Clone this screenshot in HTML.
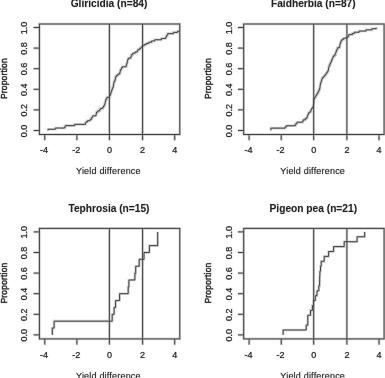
<!DOCTYPE html>
<html><head><meta charset="utf-8"><style>
html,body{margin:0;padding:0;background:#fff;}
svg{display:block;filter:grayscale(1);}
.t{font-family:'Liberation Sans', sans-serif;font-size:9.0px;fill:#222;stroke:#222;stroke-width:0.15px;}.h .t{fill:#e6e6e6;stroke:#e6e6e6;stroke-width:1.15px;}
.l{font-family:'Liberation Sans', sans-serif;font-size:9.0px;letter-spacing:0.2px;fill:#222;stroke:#222;stroke-width:0.05px;}.h .l{fill:#e6e6e6;stroke:#e6e6e6;stroke-width:1.05px;}
.yl{font-family:'Liberation Sans', sans-serif;font-size:8.45px;letter-spacing:0.2px;fill:#222;stroke:#222;stroke-width:0.35px;}.h .yl{fill:#e6e6e6;stroke:#e6e6e6;stroke-width:1.35px;}
.m{font-family:'Liberation Sans', sans-serif;font-size:10.2px;font-weight:bold;fill:#222;stroke:#222;stroke-width:0.0px;}.h .m{fill:#e6e6e6;stroke:#e6e6e6;stroke-width:1.00px;}
</style></head><body>
<svg width="385" height="378" viewBox="0 0 385 378">
<defs><clipPath id="c0"><rect x="39.4" y="24.0" width="140.40" height="110.50"/></clipPath><clipPath id="c1"><rect x="39.4" y="24.0" width="140.40" height="110.50"/></clipPath><clipPath id="c2"><rect x="39.4" y="24.0" width="140.40" height="110.50"/></clipPath><clipPath id="c3"><rect x="39.4" y="24.0" width="140.40" height="110.50"/></clipPath>
</defs>
<rect width="385" height="378" fill="#fff"/>
<g fill="none" stroke="#cfcfcf" stroke-width="2.6">
<g transform="translate(0.00,0.00)">
<rect x="39.4" y="24.0" width="140.40" height="110.50"/>
<path d="M109.40,24.0V134.5"/>
<path d="M142.60,24.0V134.5"/>
<path d="M44.80,134.5V140.30"/>
<path d="M76.90,134.5V140.30"/>
<path d="M109.40,134.5V140.30"/>
<path d="M142.60,134.5V140.30"/>
<path d="M174.70,134.5V140.30"/>
<path d="M33.60,130.50H39.4"/>
<path d="M33.60,109.90H39.4"/>
<path d="M33.60,89.30H39.4"/>
<path d="M33.60,68.70H39.4"/>
<path d="M33.60,48.10H39.4"/>
<path d="M33.60,27.50H39.4"/>
<path clip-path="url(#c0)" d="M48.00,130.50V129.27H55.40V128.05H64.58V126.82H65.55V125.60H74.60V124.37H85.44V123.14H85.99V121.92H87.52V120.69H90.08V119.46H91.37V118.24H91.99V117.01H92.83V115.79H96.01V114.56H96.26V113.33H96.51V112.11H97.81V110.88H99.62V109.65H100.43V108.43H102.77V107.20H103.59V105.98H104.35V104.75H104.86V103.52H105.15V102.30H105.45V101.07H105.74V99.85H106.28V98.62H106.90V97.39H109.36V96.17H109.92V94.94H110.49V93.71H110.88V92.49H111.26V91.26H111.66V90.04H112.14V88.81H112.62V87.58H113.10V86.36H113.47V85.13H113.65V83.90H113.83V82.68H114.02V81.45H114.82V80.23H115.23V79.00H115.45V77.77H115.66V76.55H116.67V75.32H118.03V74.10H119.69V72.87H120.04V71.64H120.30V70.42H120.69V69.19H121.50V67.96H122.30V66.74H126.07V65.51H126.49V64.29H126.91V63.06H127.17V61.83H127.43V60.61H127.69V59.38H128.47V58.15H130.74V56.93H131.21V55.70H131.79V54.48H132.86V53.25H135.06V52.02H137.35V50.80H137.92V49.57H139.69V48.35H141.14V47.12H142.14V45.89H143.89V44.67H146.05V43.44H148.74V42.21H151.56V40.99H154.72V39.76H161.37V38.54H165.59V37.31H166.32V36.08H167.04V34.86H167.76V33.63H173.42V32.40H177.62V31.18H999.00V29.95V28.73V27.50"/>
</g>
<g transform="translate(204.30,0.00)">
<rect x="39.4" y="24.0" width="140.40" height="110.50"/>
<path d="M109.40,24.0V134.5"/>
<path d="M142.60,24.0V134.5"/>
<path d="M44.80,134.5V140.30"/>
<path d="M76.90,134.5V140.30"/>
<path d="M109.40,134.5V140.30"/>
<path d="M142.60,134.5V140.30"/>
<path d="M174.70,134.5V140.30"/>
<path d="M33.60,130.50H39.4"/>
<path d="M33.60,109.90H39.4"/>
<path d="M33.60,89.30H39.4"/>
<path d="M33.60,68.70H39.4"/>
<path d="M33.60,48.10H39.4"/>
<path d="M33.60,27.50H39.4"/>
<path clip-path="url(#c1)" d="M66.60,130.50V129.32V128.13H80.87V126.95H82.02V125.76H90.99V124.58H91.69V123.40H92.80V122.21H98.39V121.03H98.98V119.84H100.83V118.66H102.40V117.48H102.89V116.29H103.38V115.11H103.82V113.93H104.27V112.74H105.68V111.56H106.52V110.37H106.97V109.19H107.63V108.01H108.58V106.82H108.84V105.64H109.10V104.45H109.36V103.27H109.47V102.09H109.54V100.90H109.62V99.72H109.69V98.53H110.38V97.35H111.14V96.17H111.87V94.98H112.61V93.80H113.30V92.61H113.99V91.43H114.56V90.25H115.04V89.06H115.50V87.88H115.66V86.70H115.82V85.51H115.97V84.33H116.28V83.14H116.62V81.96H116.96V80.78H117.37V79.59H117.80V78.41H118.48V77.22H119.67V76.04H120.62V74.86H121.55V73.67H122.35V72.49H123.13V71.30H123.89V70.12H124.10V68.94H124.30V67.75H124.52V66.57H125.01V65.39H125.50V64.20H126.02V63.02H126.56V61.83H127.07V60.65H127.56V59.47H128.05V58.28H128.54V57.10H129.03V55.91H130.40V54.73H131.12V53.55H131.41V52.36H131.84V51.18H132.33V49.99H132.83V48.81H133.37V47.63H135.33V46.44H135.52V45.26H135.72V44.07H135.95V42.89H136.43V41.71H136.91V40.52H137.82V39.34H139.34V38.16H142.67V36.97H144.00V35.79H144.37V34.60H148.09V33.42H150.08V32.24H154.88V31.05H161.76V29.87H167.68V28.68H171.90V27.50"/>
</g>
<g transform="translate(0.00,204.40)">
<rect x="39.4" y="24.0" width="140.40" height="110.50"/>
<path d="M109.40,24.0V134.5"/>
<path d="M142.60,24.0V134.5"/>
<path d="M44.80,134.5V140.30"/>
<path d="M76.90,134.5V140.30"/>
<path d="M109.40,134.5V140.30"/>
<path d="M142.60,134.5V140.30"/>
<path d="M174.70,134.5V140.30"/>
<path d="M33.60,130.50H39.4"/>
<path d="M33.60,109.90H39.4"/>
<path d="M33.60,89.30H39.4"/>
<path d="M33.60,68.70H39.4"/>
<path d="M33.60,48.10H39.4"/>
<path d="M33.60,27.50H39.4"/>
<path clip-path="url(#c2)" d="M52.30,130.50V123.63H54.10V116.77H112.20V109.90H114.10V103.03H115.60V96.17H119.60V89.30H128.20V82.43H128.90V75.57H134.90V68.70H135.70V61.83H139.20V54.97H144.00V48.10H149.40V41.23H157.70V34.37V27.50"/>
</g>
<g transform="translate(204.30,204.40)">
<rect x="39.4" y="24.0" width="140.40" height="110.50"/>
<path d="M109.40,24.0V134.5"/>
<path d="M142.60,24.0V134.5"/>
<path d="M44.80,134.5V140.30"/>
<path d="M76.90,134.5V140.30"/>
<path d="M109.40,134.5V140.30"/>
<path d="M142.60,134.5V140.30"/>
<path d="M174.70,134.5V140.30"/>
<path d="M33.60,130.50H39.4"/>
<path d="M33.60,109.90H39.4"/>
<path d="M33.60,89.30H39.4"/>
<path d="M33.60,68.70H39.4"/>
<path d="M33.60,48.10H39.4"/>
<path d="M33.60,27.50H39.4"/>
<path clip-path="url(#c3)" d="M78.80,130.50V125.60H101.90V120.69H103.50V115.79V110.88H106.20V105.98H108.10V101.07H109.20V96.17H111.00V91.26H112.70V86.36H114.50V81.45H115.30V76.55H115.40V71.64H115.60V66.74H116.20V61.83H116.90V56.93H119.90V52.02H124.30V47.12H129.30V42.21H139.90V37.31H152.80V32.40H160.40V27.50"/>
</g>
</g>
<g class="h"><g transform="translate(0.00,0.00)">
<text x="44.10" y="153.00" text-anchor="middle" class="t">-4</text>
<text x="76.20" y="153.00" text-anchor="middle" class="t">-2</text>
<text x="109.40" y="153.00" text-anchor="middle" class="t">0</text>
<text x="142.60" y="153.00" text-anchor="middle" class="t">2</text>
<text x="174.70" y="153.00" text-anchor="middle" class="t">4</text>
<text transform="translate(27.3,130.90) rotate(-90)" text-anchor="middle" class="t">0.0</text>
<text transform="translate(27.3,110.30) rotate(-90)" text-anchor="middle" class="t">0.2</text>
<text transform="translate(27.3,89.70) rotate(-90)" text-anchor="middle" class="t">0.4</text>
<text transform="translate(27.3,69.10) rotate(-90)" text-anchor="middle" class="t">0.6</text>
<text transform="translate(27.3,48.50) rotate(-90)" text-anchor="middle" class="t">0.8</text>
<text transform="translate(27.3,27.90) rotate(-90)" text-anchor="middle" class="t">1.0</text>
<text x="109.0" y="7.3" text-anchor="middle" class="m">Gliricidia (n=84)</text>
<text x="108.4" y="173.80" text-anchor="middle" class="l">Yield difference</text>
<text transform="translate(6.6,78.6) rotate(-90)" text-anchor="middle" class="yl">Proportion</text>
</g>
<g transform="translate(204.30,0.00)">
<text x="44.10" y="153.00" text-anchor="middle" class="t">-4</text>
<text x="76.20" y="153.00" text-anchor="middle" class="t">-2</text>
<text x="109.40" y="153.00" text-anchor="middle" class="t">0</text>
<text x="142.60" y="153.00" text-anchor="middle" class="t">2</text>
<text x="174.70" y="153.00" text-anchor="middle" class="t">4</text>
<text transform="translate(27.3,130.90) rotate(-90)" text-anchor="middle" class="t">0.0</text>
<text transform="translate(27.3,110.30) rotate(-90)" text-anchor="middle" class="t">0.2</text>
<text transform="translate(27.3,89.70) rotate(-90)" text-anchor="middle" class="t">0.4</text>
<text transform="translate(27.3,69.10) rotate(-90)" text-anchor="middle" class="t">0.6</text>
<text transform="translate(27.3,48.50) rotate(-90)" text-anchor="middle" class="t">0.8</text>
<text transform="translate(27.3,27.90) rotate(-90)" text-anchor="middle" class="t">1.0</text>
<text x="109.0" y="7.3" text-anchor="middle" class="m">Faidherbia (n=87)</text>
<text x="108.4" y="173.80" text-anchor="middle" class="l">Yield difference</text>
<text transform="translate(6.6,78.6) rotate(-90)" text-anchor="middle" class="yl">Proportion</text>
</g>
<g transform="translate(0.00,204.40)">
<text x="44.10" y="153.30" text-anchor="middle" class="t">-4</text>
<text x="76.20" y="153.30" text-anchor="middle" class="t">-2</text>
<text x="109.40" y="153.30" text-anchor="middle" class="t">0</text>
<text x="142.60" y="153.30" text-anchor="middle" class="t">2</text>
<text x="174.70" y="153.30" text-anchor="middle" class="t">4</text>
<text transform="translate(27.3,130.90) rotate(-90)" text-anchor="middle" class="t">0.0</text>
<text transform="translate(27.3,110.30) rotate(-90)" text-anchor="middle" class="t">0.2</text>
<text transform="translate(27.3,89.70) rotate(-90)" text-anchor="middle" class="t">0.4</text>
<text transform="translate(27.3,69.10) rotate(-90)" text-anchor="middle" class="t">0.6</text>
<text transform="translate(27.3,48.50) rotate(-90)" text-anchor="middle" class="t">0.8</text>
<text transform="translate(27.3,27.90) rotate(-90)" text-anchor="middle" class="t">1.0</text>
<text x="109.0" y="7.3" text-anchor="middle" class="m">Tephrosia (n=15)</text>
<text x="108.4" y="174.40" text-anchor="middle" class="l">Yield difference</text>
<text transform="translate(6.6,78.6) rotate(-90)" text-anchor="middle" class="yl">Proportion</text>
</g>
<g transform="translate(204.30,204.40)">
<text x="44.10" y="153.30" text-anchor="middle" class="t">-4</text>
<text x="76.20" y="153.30" text-anchor="middle" class="t">-2</text>
<text x="109.40" y="153.30" text-anchor="middle" class="t">0</text>
<text x="142.60" y="153.30" text-anchor="middle" class="t">2</text>
<text x="174.70" y="153.30" text-anchor="middle" class="t">4</text>
<text transform="translate(27.3,130.90) rotate(-90)" text-anchor="middle" class="t">0.0</text>
<text transform="translate(27.3,110.30) rotate(-90)" text-anchor="middle" class="t">0.2</text>
<text transform="translate(27.3,89.70) rotate(-90)" text-anchor="middle" class="t">0.4</text>
<text transform="translate(27.3,69.10) rotate(-90)" text-anchor="middle" class="t">0.6</text>
<text transform="translate(27.3,48.50) rotate(-90)" text-anchor="middle" class="t">0.8</text>
<text transform="translate(27.3,27.90) rotate(-90)" text-anchor="middle" class="t">1.0</text>
<text x="109.0" y="7.3" text-anchor="middle" class="m">Pigeon pea (n=21)</text>
<text x="108.4" y="174.40" text-anchor="middle" class="l">Yield difference</text>
<text transform="translate(6.6,78.6) rotate(-90)" text-anchor="middle" class="yl">Proportion</text>
</g></g>
<g fill="none" stroke="#404040" stroke-width="1.0">
<g transform="translate(0.00,0.00)">
<rect x="39.4" y="24.0" width="140.40" height="110.50"/>
<path d="M109.40,24.0V134.5"/>
<path d="M142.60,24.0V134.5"/>
<path d="M44.80,134.5V140.30"/>
<path d="M76.90,134.5V140.30"/>
<path d="M109.40,134.5V140.30"/>
<path d="M142.60,134.5V140.30"/>
<path d="M174.70,134.5V140.30"/>
<path d="M33.60,130.50H39.4"/>
<path d="M33.60,109.90H39.4"/>
<path d="M33.60,89.30H39.4"/>
<path d="M33.60,68.70H39.4"/>
<path d="M33.60,48.10H39.4"/>
<path d="M33.60,27.50H39.4"/>
<path clip-path="url(#c0)" d="M48.00,130.50V129.27H55.40V128.05H64.58V126.82H65.55V125.60H74.60V124.37H85.44V123.14H85.99V121.92H87.52V120.69H90.08V119.46H91.37V118.24H91.99V117.01H92.83V115.79H96.01V114.56H96.26V113.33H96.51V112.11H97.81V110.88H99.62V109.65H100.43V108.43H102.77V107.20H103.59V105.98H104.35V104.75H104.86V103.52H105.15V102.30H105.45V101.07H105.74V99.85H106.28V98.62H106.90V97.39H109.36V96.17H109.92V94.94H110.49V93.71H110.88V92.49H111.26V91.26H111.66V90.04H112.14V88.81H112.62V87.58H113.10V86.36H113.47V85.13H113.65V83.90H113.83V82.68H114.02V81.45H114.82V80.23H115.23V79.00H115.45V77.77H115.66V76.55H116.67V75.32H118.03V74.10H119.69V72.87H120.04V71.64H120.30V70.42H120.69V69.19H121.50V67.96H122.30V66.74H126.07V65.51H126.49V64.29H126.91V63.06H127.17V61.83H127.43V60.61H127.69V59.38H128.47V58.15H130.74V56.93H131.21V55.70H131.79V54.48H132.86V53.25H135.06V52.02H137.35V50.80H137.92V49.57H139.69V48.35H141.14V47.12H142.14V45.89H143.89V44.67H146.05V43.44H148.74V42.21H151.56V40.99H154.72V39.76H161.37V38.54H165.59V37.31H166.32V36.08H167.04V34.86H167.76V33.63H173.42V32.40H177.62V31.18H999.00V29.95V28.73V27.50"/>
</g>
<g transform="translate(204.30,0.00)">
<rect x="39.4" y="24.0" width="140.40" height="110.50"/>
<path d="M109.40,24.0V134.5"/>
<path d="M142.60,24.0V134.5"/>
<path d="M44.80,134.5V140.30"/>
<path d="M76.90,134.5V140.30"/>
<path d="M109.40,134.5V140.30"/>
<path d="M142.60,134.5V140.30"/>
<path d="M174.70,134.5V140.30"/>
<path d="M33.60,130.50H39.4"/>
<path d="M33.60,109.90H39.4"/>
<path d="M33.60,89.30H39.4"/>
<path d="M33.60,68.70H39.4"/>
<path d="M33.60,48.10H39.4"/>
<path d="M33.60,27.50H39.4"/>
<path clip-path="url(#c1)" d="M66.60,130.50V129.32V128.13H80.87V126.95H82.02V125.76H90.99V124.58H91.69V123.40H92.80V122.21H98.39V121.03H98.98V119.84H100.83V118.66H102.40V117.48H102.89V116.29H103.38V115.11H103.82V113.93H104.27V112.74H105.68V111.56H106.52V110.37H106.97V109.19H107.63V108.01H108.58V106.82H108.84V105.64H109.10V104.45H109.36V103.27H109.47V102.09H109.54V100.90H109.62V99.72H109.69V98.53H110.38V97.35H111.14V96.17H111.87V94.98H112.61V93.80H113.30V92.61H113.99V91.43H114.56V90.25H115.04V89.06H115.50V87.88H115.66V86.70H115.82V85.51H115.97V84.33H116.28V83.14H116.62V81.96H116.96V80.78H117.37V79.59H117.80V78.41H118.48V77.22H119.67V76.04H120.62V74.86H121.55V73.67H122.35V72.49H123.13V71.30H123.89V70.12H124.10V68.94H124.30V67.75H124.52V66.57H125.01V65.39H125.50V64.20H126.02V63.02H126.56V61.83H127.07V60.65H127.56V59.47H128.05V58.28H128.54V57.10H129.03V55.91H130.40V54.73H131.12V53.55H131.41V52.36H131.84V51.18H132.33V49.99H132.83V48.81H133.37V47.63H135.33V46.44H135.52V45.26H135.72V44.07H135.95V42.89H136.43V41.71H136.91V40.52H137.82V39.34H139.34V38.16H142.67V36.97H144.00V35.79H144.37V34.60H148.09V33.42H150.08V32.24H154.88V31.05H161.76V29.87H167.68V28.68H171.90V27.50"/>
</g>
<g transform="translate(0.00,204.40)">
<rect x="39.4" y="24.0" width="140.40" height="110.50"/>
<path d="M109.40,24.0V134.5"/>
<path d="M142.60,24.0V134.5"/>
<path d="M44.80,134.5V140.30"/>
<path d="M76.90,134.5V140.30"/>
<path d="M109.40,134.5V140.30"/>
<path d="M142.60,134.5V140.30"/>
<path d="M174.70,134.5V140.30"/>
<path d="M33.60,130.50H39.4"/>
<path d="M33.60,109.90H39.4"/>
<path d="M33.60,89.30H39.4"/>
<path d="M33.60,68.70H39.4"/>
<path d="M33.60,48.10H39.4"/>
<path d="M33.60,27.50H39.4"/>
<path clip-path="url(#c2)" d="M52.30,130.50V123.63H54.10V116.77H112.20V109.90H114.10V103.03H115.60V96.17H119.60V89.30H128.20V82.43H128.90V75.57H134.90V68.70H135.70V61.83H139.20V54.97H144.00V48.10H149.40V41.23H157.70V34.37V27.50"/>
</g>
<g transform="translate(204.30,204.40)">
<rect x="39.4" y="24.0" width="140.40" height="110.50"/>
<path d="M109.40,24.0V134.5"/>
<path d="M142.60,24.0V134.5"/>
<path d="M44.80,134.5V140.30"/>
<path d="M76.90,134.5V140.30"/>
<path d="M109.40,134.5V140.30"/>
<path d="M142.60,134.5V140.30"/>
<path d="M174.70,134.5V140.30"/>
<path d="M33.60,130.50H39.4"/>
<path d="M33.60,109.90H39.4"/>
<path d="M33.60,89.30H39.4"/>
<path d="M33.60,68.70H39.4"/>
<path d="M33.60,48.10H39.4"/>
<path d="M33.60,27.50H39.4"/>
<path clip-path="url(#c3)" d="M78.80,130.50V125.60H101.90V120.69H103.50V115.79V110.88H106.20V105.98H108.10V101.07H109.20V96.17H111.00V91.26H112.70V86.36H114.50V81.45H115.30V76.55H115.40V71.64H115.60V66.74H116.20V61.83H116.90V56.93H119.90V52.02H124.30V47.12H129.30V42.21H139.90V37.31H152.80V32.40H160.40V27.50"/>
</g>
</g>
<g><g transform="translate(0.00,0.00)">
<text x="44.10" y="153.00" text-anchor="middle" class="t">-4</text>
<text x="76.20" y="153.00" text-anchor="middle" class="t">-2</text>
<text x="109.40" y="153.00" text-anchor="middle" class="t">0</text>
<text x="142.60" y="153.00" text-anchor="middle" class="t">2</text>
<text x="174.70" y="153.00" text-anchor="middle" class="t">4</text>
<text transform="translate(27.3,130.90) rotate(-90)" text-anchor="middle" class="t">0.0</text>
<text transform="translate(27.3,110.30) rotate(-90)" text-anchor="middle" class="t">0.2</text>
<text transform="translate(27.3,89.70) rotate(-90)" text-anchor="middle" class="t">0.4</text>
<text transform="translate(27.3,69.10) rotate(-90)" text-anchor="middle" class="t">0.6</text>
<text transform="translate(27.3,48.50) rotate(-90)" text-anchor="middle" class="t">0.8</text>
<text transform="translate(27.3,27.90) rotate(-90)" text-anchor="middle" class="t">1.0</text>
<text x="109.0" y="7.3" text-anchor="middle" class="m">Gliricidia (n=84)</text>
<text x="108.4" y="173.80" text-anchor="middle" class="l">Yield difference</text>
<text transform="translate(6.6,78.6) rotate(-90)" text-anchor="middle" class="yl">Proportion</text>
</g>
<g transform="translate(204.30,0.00)">
<text x="44.10" y="153.00" text-anchor="middle" class="t">-4</text>
<text x="76.20" y="153.00" text-anchor="middle" class="t">-2</text>
<text x="109.40" y="153.00" text-anchor="middle" class="t">0</text>
<text x="142.60" y="153.00" text-anchor="middle" class="t">2</text>
<text x="174.70" y="153.00" text-anchor="middle" class="t">4</text>
<text transform="translate(27.3,130.90) rotate(-90)" text-anchor="middle" class="t">0.0</text>
<text transform="translate(27.3,110.30) rotate(-90)" text-anchor="middle" class="t">0.2</text>
<text transform="translate(27.3,89.70) rotate(-90)" text-anchor="middle" class="t">0.4</text>
<text transform="translate(27.3,69.10) rotate(-90)" text-anchor="middle" class="t">0.6</text>
<text transform="translate(27.3,48.50) rotate(-90)" text-anchor="middle" class="t">0.8</text>
<text transform="translate(27.3,27.90) rotate(-90)" text-anchor="middle" class="t">1.0</text>
<text x="109.0" y="7.3" text-anchor="middle" class="m">Faidherbia (n=87)</text>
<text x="108.4" y="173.80" text-anchor="middle" class="l">Yield difference</text>
<text transform="translate(6.6,78.6) rotate(-90)" text-anchor="middle" class="yl">Proportion</text>
</g>
<g transform="translate(0.00,204.40)">
<text x="44.10" y="153.30" text-anchor="middle" class="t">-4</text>
<text x="76.20" y="153.30" text-anchor="middle" class="t">-2</text>
<text x="109.40" y="153.30" text-anchor="middle" class="t">0</text>
<text x="142.60" y="153.30" text-anchor="middle" class="t">2</text>
<text x="174.70" y="153.30" text-anchor="middle" class="t">4</text>
<text transform="translate(27.3,130.90) rotate(-90)" text-anchor="middle" class="t">0.0</text>
<text transform="translate(27.3,110.30) rotate(-90)" text-anchor="middle" class="t">0.2</text>
<text transform="translate(27.3,89.70) rotate(-90)" text-anchor="middle" class="t">0.4</text>
<text transform="translate(27.3,69.10) rotate(-90)" text-anchor="middle" class="t">0.6</text>
<text transform="translate(27.3,48.50) rotate(-90)" text-anchor="middle" class="t">0.8</text>
<text transform="translate(27.3,27.90) rotate(-90)" text-anchor="middle" class="t">1.0</text>
<text x="109.0" y="7.3" text-anchor="middle" class="m">Tephrosia (n=15)</text>
<text x="108.4" y="174.40" text-anchor="middle" class="l">Yield difference</text>
<text transform="translate(6.6,78.6) rotate(-90)" text-anchor="middle" class="yl">Proportion</text>
</g>
<g transform="translate(204.30,204.40)">
<text x="44.10" y="153.30" text-anchor="middle" class="t">-4</text>
<text x="76.20" y="153.30" text-anchor="middle" class="t">-2</text>
<text x="109.40" y="153.30" text-anchor="middle" class="t">0</text>
<text x="142.60" y="153.30" text-anchor="middle" class="t">2</text>
<text x="174.70" y="153.30" text-anchor="middle" class="t">4</text>
<text transform="translate(27.3,130.90) rotate(-90)" text-anchor="middle" class="t">0.0</text>
<text transform="translate(27.3,110.30) rotate(-90)" text-anchor="middle" class="t">0.2</text>
<text transform="translate(27.3,89.70) rotate(-90)" text-anchor="middle" class="t">0.4</text>
<text transform="translate(27.3,69.10) rotate(-90)" text-anchor="middle" class="t">0.6</text>
<text transform="translate(27.3,48.50) rotate(-90)" text-anchor="middle" class="t">0.8</text>
<text transform="translate(27.3,27.90) rotate(-90)" text-anchor="middle" class="t">1.0</text>
<text x="109.0" y="7.3" text-anchor="middle" class="m">Pigeon pea (n=21)</text>
<text x="108.4" y="174.40" text-anchor="middle" class="l">Yield difference</text>
<text transform="translate(6.6,78.6) rotate(-90)" text-anchor="middle" class="yl">Proportion</text>
</g></g>
</svg>
</body></html>
